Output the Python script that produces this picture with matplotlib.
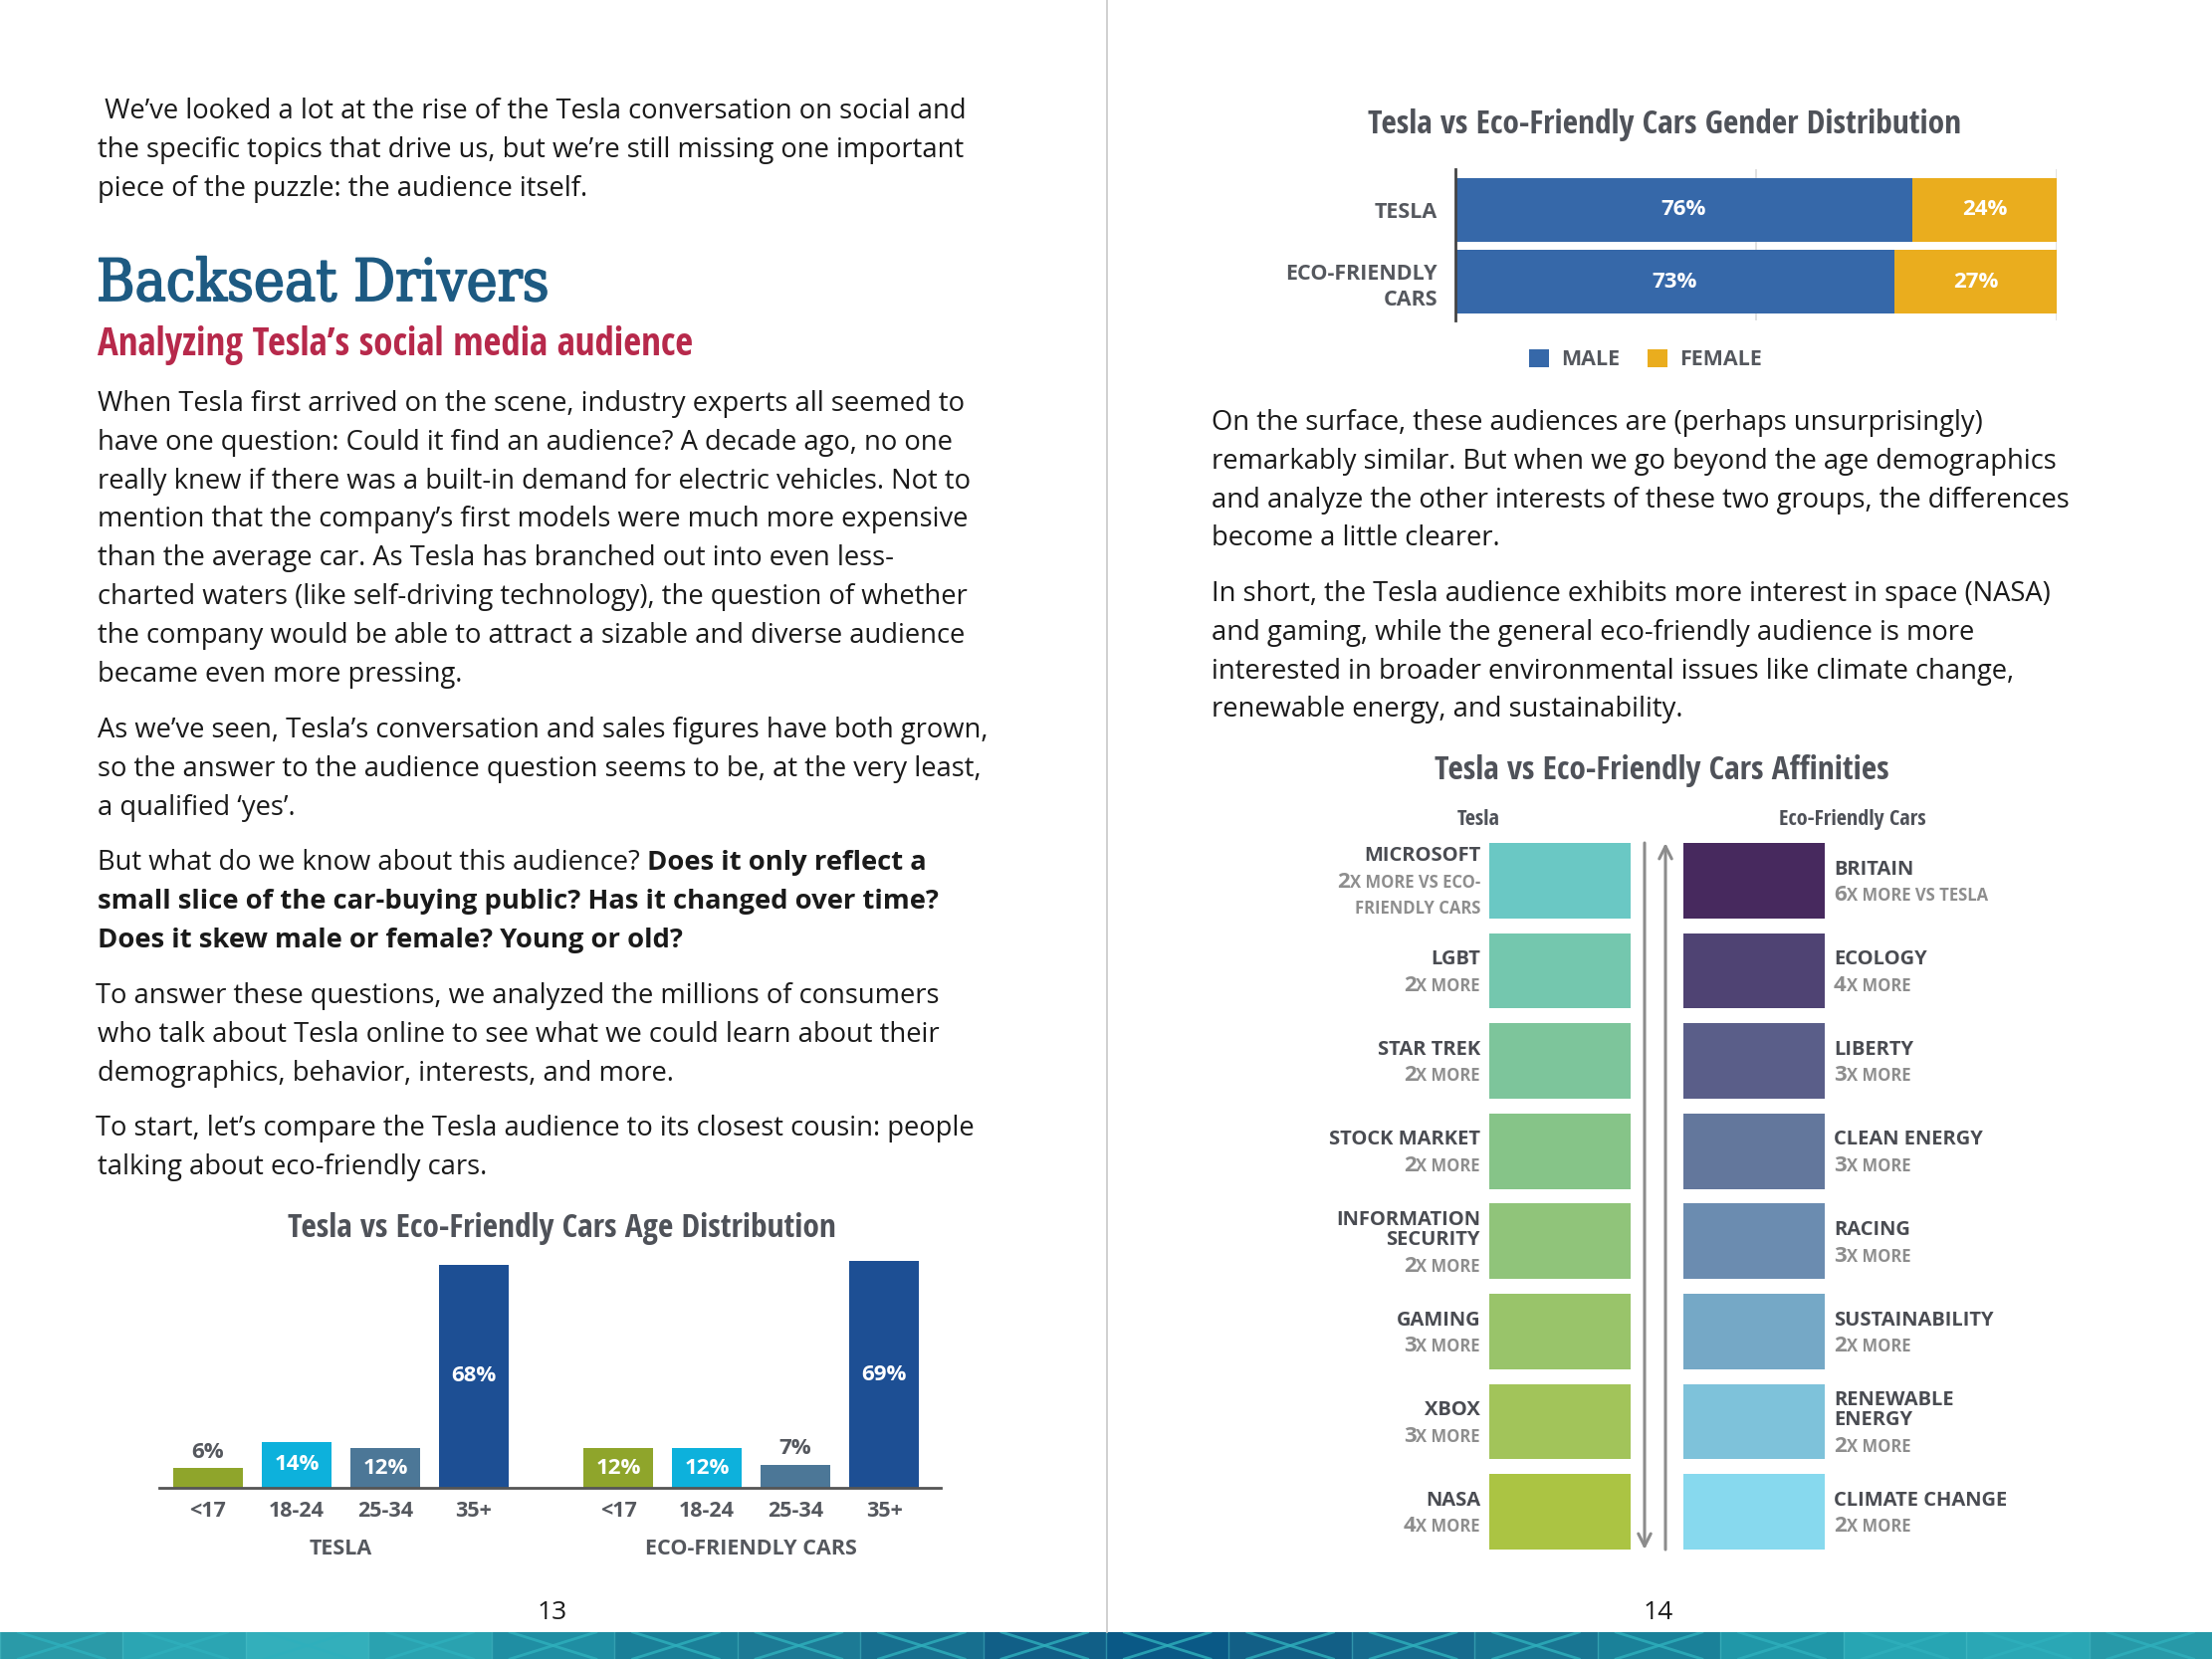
import numpy as np
import matplotlib
matplotlib.use("Agg")
import matplotlib.pyplot as plt
import matplotlib.patheffects as pe
from matplotlib import font_manager as fm
from matplotlib.transforms import IdentityTransform
from matplotlib.patches import Rectangle

W, H = 2222, 1667

# ---------------- data ----------------
age_groups = ["<17", "18-24", "25-34", "35+"]
age_tesla = [6, 14, 12, 68]
age_eco = [12, 12, 7, 69]
age_colors = ["#8fa52b", "#0db1dc", "#4c7797", "#1d4f94"]
age_panels = ["TESLA", "ECO-FRIENDLY CARS"]

gender_rows = ["TESLA", "ECO-FRIENDLY\nCARS"]
gender_male = [76, 73]
gender_female = [24, 27]
gender_colors = ["#3668a9", "#eaad1e"]

tesla_topics = ["MICROSOFT", "LGBT", "STAR TREK", "STOCK MARKET",
                "INFORMATION\nSECURITY", "GAMING", "XBOX", "NASA"]
tesla_mult = [2, 2, 2, 2, 2, 3, 3, 4]
tesla_note = ["X MORE VS ECO-\nFRIENDLY CARS"] + ["X MORE"] * 7
tesla_colors = ["#6ac8c4", "#74c7ae", "#7dc59b", "#86c488",
                "#90c47a", "#99c46a", "#a2c45a", "#abc443"]

eco_topics = ["BRITAIN", "ECOLOGY", "LIBERTY", "CLEAN ENERGY", "RACING",
              "SUSTAINABILITY", "RENEWABLE\nENERGY", "CLIMATE CHANGE"]
eco_mult = [6, 4, 3, 3, 3, 2, 2, 2]
eco_note = ["X MORE VS TESLA"] + ["X MORE"] * 7
eco_colors = ["#47295e", "#4f4373", "#5a5e89", "#63779c",
              "#6b8cb0", "#75a8c6", "#7ec2da", "#87d9ee"]

band_colors = ["#2a9aa8", "#2ba5b3", "#33afbb", "#2aa2b0", "#1f8ea3", "#1a7f98",
               "#1c7a95", "#176f8f", "#115f87", "#0a5986", "#125f86", "#166b8e",
               "#187592", "#1a8199", "#2097a8", "#27a5b3", "#2aa7b5", "#2799a8"]

intro = [" We\u2019ve looked a lot at the rise of the Tesla conversation on social and",
         "the specific topics that drive us, but we\u2019re still missing one important",
         "piece of the puzzle: the audience itself."]
p1 = ["When Tesla first arrived on the scene, industry experts all seemed to",
      "have one question: Could it find an audience? A decade ago, no one",
      "really knew if there was a built-in demand for electric vehicles. Not to",
      "mention that the company\u2019s first models were much more expensive",
      "than the average car. As Tesla has branched out into even less-",
      "charted waters (like self-driving technology), the question of whether",
      "the company would be able to attract a sizable and diverse audience",
      "became even more pressing."]
p2 = ["As we\u2019ve seen, Tesla\u2019s conversation and sales figures have both grown,",
      "so the answer to the audience question seems to be, at the very least,",
      "a qualified \u2018yes\u2019."]
p3_plain = "But what do we know about this audience? "
p3_bold = ["Does it only reflect a",
           "small slice of the car-buying public? Has it changed over time?",
           "Does it skew male or female? Young or old?"]
p4 = ["To answer these questions, we analyzed the millions of consumers",
      "who talk about Tesla online to see what we could learn about their",
      "demographics, behavior, interests, and more."]
p5 = ["To start, let\u2019s compare the Tesla audience to its closest cousin: people",
      "talking about eco-friendly cars."]
r1 = ["On the surface, these audiences are (perhaps unsurprisingly)",
      "remarkably similar. But when we go beyond the age demographics",
      "and analyze the other interests of these two groups, the differences",
      "become a little clearer."]
r2 = ["In short, the Tesla audience exhibits more interest in space (NASA)",
      "and gaming, while the general eco-friendly audience is more",
      "interested in broader environmental issues like climate change,",
      "renewable energy, and sustainability."]

# ---------------- fonts ----------------
plt.rcParams["font.family"] = ["Open Sans", "DejaVu Sans"]


def _w(f):
    if isinstance(f.weight, (int, float)):
        return int(f.weight)
    return {"bold": 700, "semibold": 600, "demibold": 600}.get(str(f.weight).lower(), 400)


def find_narrow(serif=False, want=650):
    best, key = None, None
    for f in fm.fontManager.ttflist:
        low = f.fname.lower()
        if "condensed" not in str(f.stretch).lower() and "narrow" not in f.name.lower():
            continue
        if f.style != "normal":
            continue
        if serif != ("serif" in f.name.lower() and "sans" not in f.name.lower()):
            continue
        k = (("semicond" in low) + ("extracond" in low) * 2 + ("ultracond" in low) * 2,
             "noto" not in low and "opensans" not in low,
             abs(_w(f) - want))
        if key is None or k < key:
            best, key = f, k
    return best.fname if best else None


cond_file = find_narrow(False, 650)
cond_bold_file = find_narrow(False, 700)
serif_file = find_narrow(True, 500)


def cond(size, bold=False):
    f = cond_bold_file if bold else cond_file
    if f:
        return fm.FontProperties(fname=f, size=size)
    return fm.FontProperties(family=["Open Sans", "DejaVu Sans"], weight="bold", size=size * 0.8)


def serif(size):
    if serif_file:
        return fm.FontProperties(fname=serif_file, size=size)
    return fm.FontProperties(family=["Liberation Serif", "DejaVu Serif"], size=size * 0.92)


fig = plt.figure(figsize=(W / 100, H / 100), dpi=100)
fig.patch.set_facecolor("white")
rend = fig.canvas.get_renderer()


def put(x, y, s, **kw):
    # x, y in output pixels, y counted from the top
    return fig.text(x, H - y, s, transform=IdentityTransform(), **kw)


def rich(x, y, pieces, ha="left"):
    seq = pieces if ha == "left" else pieces[::-1]
    cur = x
    for s, kw in seq:
        t = put(cur, y, s, ha=ha, va="baseline", **kw)
        bb = t.get_window_extent(rend)
        cur = bb.x1 if ha == "left" else bb.x0


BODY = dict(fontsize=19.7, color="#1a1a1a")
LH = 38.8


def para(x, y0, lines, **kw):
    for i, s in enumerate(lines):
        put(x, y0 + i * LH, s, va="baseline", **{**BODY, **kw})


# ---------------- left page text ----------------
para(98, 119, intro)
put(97, 302, "Backseat Drivers", va="baseline", color="#1d5a82", fontproperties=serif(42),
    path_effects=[pe.withStroke(linewidth=1.3, foreground="#1d5a82")])
put(98, 357, "Analyzing Tesla\u2019s social media audience", va="baseline",
    color="#b7294b", fontproperties=cond(28, bold=True))
para(98, 413, p1)
para(98, 741, p2)
rich(98, 874, [(p3_plain, BODY), (p3_bold[0], {**BODY, "fontweight": "bold"})])
para(98, 874 + LH, p3_bold[1:], fontweight="bold")
para(96, 1008, p4[:1])
para(98, 1008 + LH, p4[1:])
para(96, 1141, p5[:1])
para(98, 1141 + LH, p5[1:])

# right page text
para(1217, 432, r1)
para(1217, 604, r2)

TITLE_C = "#4f5259"
LAB_C = "#55585e"
put(564, 1243, "Tesla vs Eco-Friendly Cars Age Distribution", ha="center", va="baseline",
    color=TITLE_C, fontproperties=cond(24))
put(1672, 134, "Tesla vs Eco-Friendly Cars Gender Distribution", ha="center", va="baseline",
    color=TITLE_C, fontproperties=cond(24))
put(1669, 783, "Tesla vs Eco-Friendly Cars Affinities", ha="center", va="baseline",
    color=TITLE_C, fontproperties=cond(24))
put(1485, 829, "Tesla", ha="center", va="baseline", color=TITLE_C, fontproperties=cond(16))
put(1861, 829, "Eco-Friendly Cars", ha="center", va="baseline", color=TITLE_C, fontproperties=cond(16))

put(555, 1627, "13", ha="center", va="baseline", fontsize=19, color="#1a1a1a")
put(1666, 1627, "14", ha="center", va="baseline", fontsize=19, color="#1a1a1a")

# page divider
fig.add_artist(plt.Line2D([1112 / W, 1112 / W], [27 / H, 1], color="#c8c8c8", lw=1.2))


def add_ax(x0, y0, x1, y1):
    return fig.add_axes([x0 / W, 1 - y1 / H, (x1 - x0) / W, (y1 - y0) / H])


# ---------------- age distribution ----------------
ax = add_ax(160, 1264, 945, 1495)
ax.set_facecolor("none")
pos_t = np.arange(len(age_groups))
pos_e = pos_t + len(age_groups) + 0.63
for pos, vals in [(pos_t, age_tesla), (pos_e, age_eco)]:
    bars = ax.bar(pos, vals, width=0.78, color=age_colors, zorder=2)
    for b, v in zip(bars, vals):
        cx = b.get_x() + b.get_width() / 2
        if v >= 10:
            ax.text(cx, v / 2, f"{v}%", ha="center", va="center", color="white",
                    fontsize=16, fontweight="bold")
        else:
            ax.annotate(f"{v}%", (cx, v), xytext=(0, 4), textcoords="offset points",
                        ha="center", va="bottom", color=LAB_C, fontsize=16, fontweight="bold")
ax.set_xlim(-0.55, pos_e[-1] + 0.64)
ax.set_ylim(0, 70)
ax.set_xticks(np.concatenate([pos_t, pos_e]), age_groups * 2)
ax.tick_params(axis="x", length=0, pad=9, labelsize=15.5, labelcolor=LAB_C)
for lab in ax.get_xticklabels():
    lab.set_fontweight("bold")
ax.set_yticks([])
for s in ["left", "right", "top"]:
    ax.spines[s].set_visible(False)
ax.spines["bottom"].set_color("#555555")
ax.spines["bottom"].set_linewidth(2)
for pos, name in zip([pos_t, pos_e], age_panels):
    ax.text(pos.mean(), -0.29, name, transform=ax.get_xaxis_transform(), ha="center",
            va="baseline", fontsize=15.5, fontweight="bold", color=LAB_C)

# ---------------- gender distribution ----------------
gx = add_ax(1462, 170, 2066, 322)
gx.set_facecolor("none")
rows = np.arange(len(gender_rows))
bm = gx.barh(rows, gender_male, height=0.88, color=gender_colors[0], label="MALE", zorder=2)
bf = gx.barh(rows, gender_female, left=gender_male, height=0.88, color=gender_colors[1],
             label="FEMALE", zorder=2)
for r, m, f in zip(rows, gender_male, gender_female):
    gx.text(m / 2, r, f"{m}%", ha="center", va="center", color="white", fontsize=16, fontweight="bold")
    gx.text(m + f / 2, r, f"{f}%", ha="center", va="center", color="white", fontsize=16, fontweight="bold")
gx.set_xlim(0, 100)
gx.set_ylim(1.53, -0.56)
gx.set_xticks([50, 100])
gx.set_xticklabels([])
gx.grid(axis="x", color="#dcdcdc", lw=1.2, zorder=0)
gx.tick_params(axis="x", length=0)
gx.set_yticks(rows, gender_rows)
gx.tick_params(axis="y", length=0, pad=13, labelsize=15.5, labelcolor=LAB_C)
for lab in gx.get_yticklabels():
    lab.set_fontweight("bold")
    lab.set_linespacing(1.3)
for s in ["right", "top", "bottom"]:
    gx.spines[s].set_visible(False)
gx.spines["left"].set_color("#444444")
gx.spines["left"].set_linewidth(2)
leg = gx.legend(loc="center", bbox_to_anchor=(0.316, -0.26), ncol=2, frameon=False,
                handlelength=0.95, handleheight=0.95, handletextpad=0.55, columnspacing=1.3,
                prop=dict(size=15.5, weight="bold"))
for t in leg.get_texts():
    t.set_color(LAB_C)

# ---------------- affinities ----------------
fx = add_ax(1496, 847, 1833, 1557)
fx.axis("off")
n = len(tesla_topics)
yy = np.arange(n)
fx.barh(yy, 142, left=0, height=0.835, color=tesla_colors)
fx.barh(yy, 142, left=195, height=0.835, color=eco_colors)
fx.set_xlim(0, 337)
fx.set_ylim(n - 1 + 0.4175, -0.4175)
fx.annotate("", xy=(156, n - 1 + 0.4175), xytext=(156, -0.4175),
            arrowprops=dict(arrowstyle="->,head_length=0.9,head_width=0.45", color="#8c8c8c",
                            lw=2.2, shrinkA=0, shrinkB=0))
fx.annotate("", xy=(177, -0.4175), xytext=(177, n - 1 + 0.4175),
            arrowprops=dict(arrowstyle="->,head_length=0.9,head_width=0.45", color="#8c8c8c",
                            lw=2.2, shrinkA=0, shrinkB=0))

NAME = dict(fontsize=14.5, fontweight="bold", color="#4a4c52")
BIG = dict(fontsize=16, fontweight="bold", color="#8e8e8e")
SMALL = dict(fontsize=12, fontweight="bold", color="#8e8e8e")


def affinity_label(x, row, topic, mult, note, ha):
    lines = [("n", s) for s in topic.split("\n")] + [("s", s) for s in note.split("\n")]
    offs = [0.0]
    for a, b in zip(lines[:-1], lines[1:]):
        offs.append(offs[-1] + (20 if a[0] == "n" and b[0] == "n" else 26.5))
    cy = H - fx.transData.transform((0, row))[1]
    top = cy - offs[-1] / 2
    for k, ((kind, s), o) in enumerate(zip(lines, offs)):
        base = top + o + 7
        if kind == "n":
            put(x, base, s, ha=ha, va="baseline", **NAME)
        elif k == len(topic.split("\n")):
            rich(x, base, [(str(mult), BIG), (s, SMALL)], ha=ha)
        else:
            put(x, base, s, ha=ha, va="baseline", **SMALL)


for i in range(n):
    affinity_label(1487, i, tesla_topics[i], tesla_mult[i], tesla_note[i], "right")
    affinity_label(1842, i, eco_topics[i], eco_mult[i], eco_note[i], "left")

# ---------------- bottom band ----------------
bx = add_ax(0, 1640, W, H)
bx.axis("off")
nt = len(band_colors)
tw = W / nt
for i, c in enumerate(band_colors):
    bx.add_patch(Rectangle((i * tw, 0), tw, 1, color=c, lw=0))
    bx.plot([i * tw + tw * 0.15, i * tw + tw * 0.85], [0, 1], color="#2fb0bd", lw=2, alpha=0.8)
    bx.plot([i * tw + tw * 0.15, i * tw + tw * 0.85], [1, 0], color="#2fb0bd", lw=2, alpha=0.8)
    bx.plot([i * tw, i * tw], [0, 1], color="#4cc0c8", lw=1, alpha=0.5)
bx.set_xlim(0, W)
bx.set_ylim(0, 1)

fig.savefig("out.png", dpi=100, facecolor="white")
